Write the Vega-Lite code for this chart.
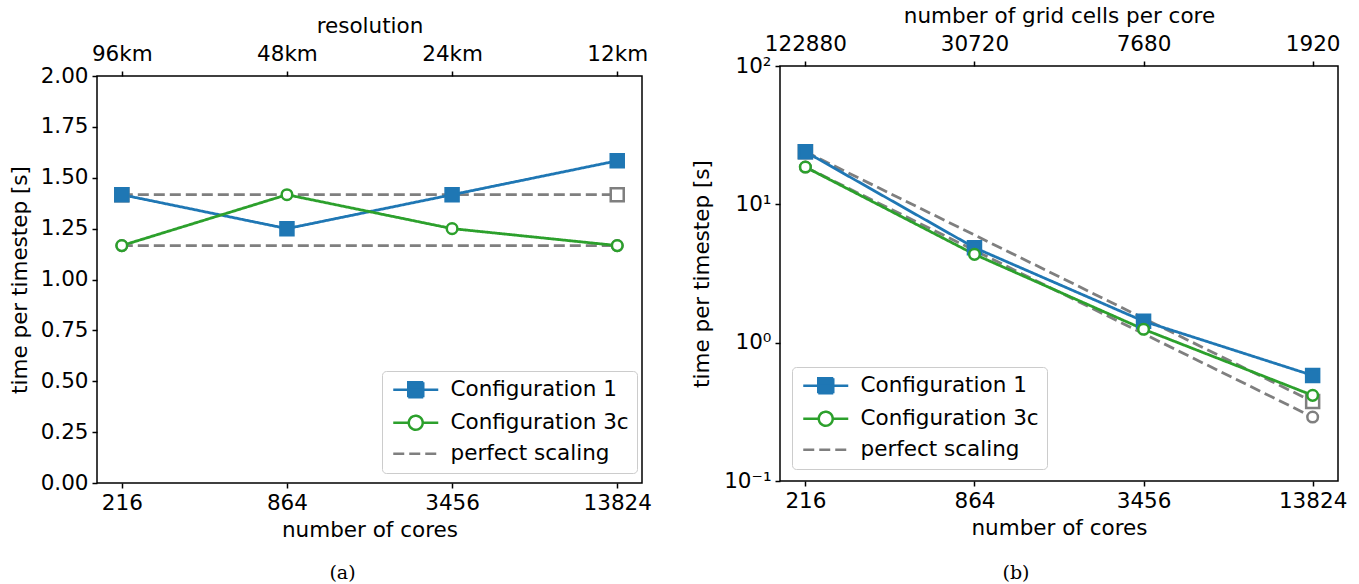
{
  "$schema": "https://vega.github.io/schema/vega-lite/v6.json",
  "background": "white",
  "padding": {"left": 8, "top": 3, "right": 4, "bottom": 0},
  "spacing": 37,
  "data": {"values": [
    {"panel": "a", "legend": "perfect scaling", "line": "p1", "kind": "perfect", "cores": 216, "time": 1.4167, "marker": "square"},
    {"panel": "a", "legend": "perfect scaling", "line": "p1", "kind": "perfect", "cores": 13824, "time": 1.4167, "marker": "square"},
    {"panel": "a", "legend": "perfect scaling", "line": "p3c", "kind": "perfect", "cores": 216, "time": 1.1667, "marker": "circle"},
    {"panel": "a", "legend": "perfect scaling", "line": "p3c", "kind": "perfect", "cores": 13824, "time": 1.1667, "marker": "circle"},
    {"panel": "a", "legend": "Configuration 1", "line": "c1", "kind": "measured", "cores": 216, "time": 1.4167, "marker": "square", "top": "96km"},
    {"panel": "a", "legend": "Configuration 1", "line": "c1", "kind": "measured", "cores": 864, "time": 1.25, "marker": "square", "top": "48km"},
    {"panel": "a", "legend": "Configuration 1", "line": "c1", "kind": "measured", "cores": 3456, "time": 1.4167, "marker": "square", "top": "24km"},
    {"panel": "a", "legend": "Configuration 1", "line": "c1", "kind": "measured", "cores": 13824, "time": 1.5833, "marker": "square", "top": "12km"},
    {"panel": "a", "legend": "Configuration 3c", "line": "c3c", "kind": "measured", "cores": 216, "time": 1.1667, "marker": "circle", "top": "96km"},
    {"panel": "a", "legend": "Configuration 3c", "line": "c3c", "kind": "measured", "cores": 864, "time": 1.4167, "marker": "circle", "top": "48km"},
    {"panel": "a", "legend": "Configuration 3c", "line": "c3c", "kind": "measured", "cores": 3456, "time": 1.25, "marker": "circle", "top": "24km"},
    {"panel": "a", "legend": "Configuration 3c", "line": "c3c", "kind": "measured", "cores": 13824, "time": 1.1667, "marker": "circle", "top": "12km"},
    {"panel": "b", "legend": "perfect scaling", "line": "p1", "kind": "perfect", "cores": 216, "time": 24.0, "marker": "square"},
    {"panel": "b", "legend": "perfect scaling", "line": "p1", "kind": "perfect", "cores": 13824, "time": 0.375, "marker": "square"},
    {"panel": "b", "legend": "perfect scaling", "line": "p3c", "kind": "perfect", "cores": 216, "time": 18.6, "marker": "circle"},
    {"panel": "b", "legend": "perfect scaling", "line": "p3c", "kind": "perfect", "cores": 13824, "time": 0.29, "marker": "circle"},
    {"panel": "b", "legend": "Configuration 1", "line": "c1", "kind": "measured", "cores": 216, "time": 24.0, "marker": "square", "top": "122880"},
    {"panel": "b", "legend": "Configuration 1", "line": "c1", "kind": "measured", "cores": 864, "time": 4.86, "marker": "square", "top": "30720"},
    {"panel": "b", "legend": "Configuration 1", "line": "c1", "kind": "measured", "cores": 3456, "time": 1.43, "marker": "square", "top": "7680"},
    {"panel": "b", "legend": "Configuration 1", "line": "c1", "kind": "measured", "cores": 13824, "time": 0.58, "marker": "square", "top": "1920"},
    {"panel": "b", "legend": "Configuration 3c", "line": "c3c", "kind": "measured", "cores": 216, "time": 18.6, "marker": "circle", "top": "122880"},
    {"panel": "b", "legend": "Configuration 3c", "line": "c3c", "kind": "measured", "cores": 864, "time": 4.35, "marker": "circle", "top": "30720"},
    {"panel": "b", "legend": "Configuration 3c", "line": "c3c", "kind": "measured", "cores": 3456, "time": 1.25, "marker": "circle", "top": "7680"},
    {"panel": "b", "legend": "Configuration 3c", "line": "c3c", "kind": "measured", "cores": 13824, "time": 0.416, "marker": "circle", "top": "1920"}
  ]},
  "hconcat": [
    {
      "spacing": 10,
      "vconcat": [
        {
          "width": 1,
          "height": 1,
          "view": {"stroke": null},
          "transform": [{"filter": "datum.panel == 'none'"}],
          "mark": {"type": "point", "opacity": 0},
          "encoding": {}
        },
        {
          "width": 545,
          "height": 407,
          "title": {"text": "(a)", "orient": "bottom", "anchor": "middle", "frame": "group", "dx": -27, "offset": 23},
          "transform": [{"filter": "datum.panel == 'a'"}],
          "layer": [
            {
              "layer": [
                {
                  "transform": [{"filter": "datum.kind == 'perfect'"}],
                  "mark": {"type": "line", "strokeWidth": 2.8},
                  "encoding": {
                    "x": {"field": "cores", "type": "quantitative", "scale": {"type": "log", "domain": [175.4, 17018], "nice": false},
                          "axis": {"values": [216, 864, 3456, 13824], "format": "d", "title": "number of cores"}},
                    "y": {"field": "time", "type": "quantitative", "scale": {"domain": [0, 2], "nice": false, "zero": false},
                          "axis": {"values": [0, 0.25, 0.5, 0.75, 1, 1.25, 1.5, 1.75, 2], "format": ".2f", "title": "time per timestep [s]", "titlePadding": 9}},
                    "detail": {"field": "line"},
                    "stroke": {"field": "legend", "type": "nominal", "scale": {"domain": ["Configuration 1", "Configuration 3c", "perfect scaling"], "range": ["#1f77b4", "#2ca02c", "#7f7f7f"]},
                               "legend": {"orient": "none", "legendX": 285, "legendY": 368, "title": null,
                                          "encode": {"symbols": {"update": {"shape": {"signal": "datum.value === 'Configuration 1' ? 'M-3,0H3M-1,-1H1V1H-1Z' : datum.value === 'Configuration 3c' ? 'M-3,0H-0.93M0.93,0H3M-0.93,0A0.93,0.93 0 1,0 0.93,0A0.93,0.93 0 1,0 -0.93,0' : 'M-3,0H3'"}}}}}},
                    "strokeDash": {"field": "legend", "type": "nominal", "scale": {"domain": ["Configuration 1", "Configuration 3c", "perfect scaling"], "range": [[1, 0], [1, 0], [11, 5]]},
                                   "legend": {"orient": "none", "legendX": 285, "legendY": 368, "title": null,
                                              "encode": {"symbols": {"update": {"shape": {"signal": "datum.value === 'Configuration 1' ? 'M-3,0H3M-1,-1H1V1H-1Z' : datum.value === 'Configuration 3c' ? 'M-3,0H-0.93M0.93,0H3M-0.93,0A0.93,0.93 0 1,0 0.93,0A0.93,0.93 0 1,0 -0.93,0' : 'M-3,0H3'"}}}}}}
                  }
                },
                {
                  "transform": [{"filter": "datum.kind == 'measured'"}],
                  "mark": {"type": "line", "strokeWidth": 2.8},
                  "encoding": {
                    "x": {"field": "cores", "type": "quantitative"},
                    "y": {"field": "time", "type": "quantitative"},
                    "detail": {"field": "line"},
                    "stroke": {"field": "legend", "type": "nominal"},
                    "strokeDash": {"field": "legend", "type": "nominal"}
                  }
                },
                {
                  "mark": {"type": "point", "filled": true, "strokeWidth": 2.5, "opacity": 1},
                  "encoding": {
                    "x": {"field": "cores", "type": "quantitative"},
                    "y": {"field": "time", "type": "quantitative"},
                    "shape": {"field": "marker", "type": "nominal", "scale": {"domain": ["square", "circle"], "range": ["square", "circle"]}, "legend": null},
                    "size": {"field": "marker", "type": "nominal", "scale": {"domain": ["square", "circle"], "range": [169, 113]}, "legend": null},
                    "stroke": {"field": "legend", "type": "nominal"},
                    "fill": {"field": "legend", "type": "nominal", "scale": {"domain": ["Configuration 1", "Configuration 3c", "perfect scaling"], "range": ["#1f77b4", "#ffffff", "#ffffff"]},
                             "legend": {"orient": "none", "legendX": 285, "legendY": 368, "title": null,
                                        "encode": {"symbols": {"update": {"shape": {"signal": "datum.value === 'Configuration 1' ? 'M-3,0H3M-1,-1H1V1H-1Z' : datum.value === 'Configuration 3c' ? 'M-3,0H-0.93M0.93,0H3M-0.93,0A0.93,0.93 0 1,0 0.93,0A0.93,0.93 0 1,0 -0.93,0' : 'M-3,0H3'"}}}}}}
                  }
                }
              ]
            },
            {
              "transform": [{"filter": "datum.kind == 'measured'"}],
              "mark": {"type": "point", "opacity": 0},
              "encoding": {
                "x": {"field": "top", "type": "ordinal", "sort": ["96km", "48km", "24km", "12km"], "scale": {"type": "point", "padding": 0.15},
                      "axis": {"orient": "top", "title": "resolution", "labelAngle": 0}},
                "y": {"field": "time", "type": "quantitative"}
              }
            }
          ],
          "resolve": {"scale": {"x": "independent"}}
        }
      ]
    },
    {
      "spacing": 0,
      "vconcat": [
        {
          "width": 1,
          "height": 1,
          "view": {"stroke": null},
          "transform": [{"filter": "datum.panel == 'none'"}],
          "mark": {"type": "point", "opacity": 0},
          "encoding": {}
        },
        {
          "width": 558,
          "height": 415,
          "title": {"text": "(b)", "orient": "bottom", "anchor": "middle", "frame": "group", "dx": -43, "offset": 25},
          "transform": [{"filter": "datum.panel == 'b'"}],
          "layer": [
            {
              "layer": [
                {
                  "transform": [{"filter": "datum.kind == 'perfect'"}],
                  "mark": {"type": "line", "strokeWidth": 2.8},
                  "encoding": {
                    "x": {"field": "cores", "type": "quantitative", "scale": {"type": "log", "domain": [175.4, 17018], "nice": false},
                          "axis": {"values": [216, 864, 3456, 13824], "format": "d", "title": "number of cores"}},
                    "y": {"field": "time", "type": "quantitative", "scale": {"type": "log", "domain": [0.1, 100], "nice": false},
                          "axis": {"values": [0.1, 1, 10, 100], "labelExpr": "datum.value >= 99 ? '10²' : datum.value >= 9 ? '10¹' : datum.value >= 0.9 ? '10⁰' : '10⁻¹'", "title": "time per timestep [s]", "titlePadding": 10}},
                    "detail": {"field": "line"},
                    "stroke": {"field": "legend", "type": "nominal", "scale": {"domain": ["Configuration 1", "Configuration 3c", "perfect scaling"], "range": ["#1f77b4", "#2ca02c", "#7f7f7f"]},
                               "legend": {"orient": "none", "legendX": 12, "legendY": 364, "title": null,
                                          "encode": {"symbols": {"update": {"shape": {"signal": "datum.value === 'Configuration 1' ? 'M-3,0H3M-1,-1H1V1H-1Z' : datum.value === 'Configuration 3c' ? 'M-3,0H-0.93M0.93,0H3M-0.93,0A0.93,0.93 0 1,0 0.93,0A0.93,0.93 0 1,0 -0.93,0' : 'M-3,0H3'"}}}}}},
                    "strokeDash": {"field": "legend", "type": "nominal", "scale": {"domain": ["Configuration 1", "Configuration 3c", "perfect scaling"], "range": [[1, 0], [1, 0], [11, 5]]},
                                   "legend": {"orient": "none", "legendX": 12, "legendY": 364, "title": null,
                                              "encode": {"symbols": {"update": {"shape": {"signal": "datum.value === 'Configuration 1' ? 'M-3,0H3M-1,-1H1V1H-1Z' : datum.value === 'Configuration 3c' ? 'M-3,0H-0.93M0.93,0H3M-0.93,0A0.93,0.93 0 1,0 0.93,0A0.93,0.93 0 1,0 -0.93,0' : 'M-3,0H3'"}}}}}}
                  }
                },
                {
                  "transform": [{"filter": "datum.kind == 'measured'"}],
                  "mark": {"type": "line", "strokeWidth": 2.8},
                  "encoding": {
                    "x": {"field": "cores", "type": "quantitative"},
                    "y": {"field": "time", "type": "quantitative"},
                    "detail": {"field": "line"},
                    "stroke": {"field": "legend", "type": "nominal"},
                    "strokeDash": {"field": "legend", "type": "nominal"}
                  }
                },
                {
                  "mark": {"type": "point", "filled": true, "strokeWidth": 2.5, "opacity": 1},
                  "encoding": {
                    "x": {"field": "cores", "type": "quantitative"},
                    "y": {"field": "time", "type": "quantitative"},
                    "shape": {"field": "marker", "type": "nominal", "scale": {"domain": ["square", "circle"], "range": ["square", "circle"]}, "legend": null},
                    "size": {"field": "marker", "type": "nominal", "scale": {"domain": ["square", "circle"], "range": [169, 113]}, "legend": null},
                    "stroke": {"field": "legend", "type": "nominal"},
                    "fill": {"field": "legend", "type": "nominal", "scale": {"domain": ["Configuration 1", "Configuration 3c", "perfect scaling"], "range": ["#1f77b4", "#ffffff", "#ffffff"]},
                             "legend": {"orient": "none", "legendX": 12, "legendY": 364, "title": null,
                                        "encode": {"symbols": {"update": {"shape": {"signal": "datum.value === 'Configuration 1' ? 'M-3,0H3M-1,-1H1V1H-1Z' : datum.value === 'Configuration 3c' ? 'M-3,0H-0.93M0.93,0H3M-0.93,0A0.93,0.93 0 1,0 0.93,0A0.93,0.93 0 1,0 -0.93,0' : 'M-3,0H3'"}}}}}}
                  }
                }
              ]
            },
            {
              "transform": [{"filter": "datum.kind == 'measured'"}],
              "mark": {"type": "point", "opacity": 0},
              "encoding": {
                "x": {"field": "top", "type": "ordinal", "sort": ["122880", "30720", "7680", "1920"], "scale": {"type": "point", "padding": 0.15},
                      "axis": {"orient": "top", "title": "number of grid cells per core", "labelAngle": 0}},
                "y": {"field": "time", "type": "quantitative"}
              }
            }
          ],
          "resolve": {"scale": {"x": "independent"}}
        }
      ]
    }
  ],
  "resolve": {"scale": {"x": "independent", "y": "independent", "stroke": "independent", "fill": "independent", "strokeDash": "independent", "shape": "independent", "size": "independent"}},
  "config": {
    "font": "DejaVu Sans",
    "view": {"stroke": "#000000", "strokeWidth": 1.5},
    "axis": {
      "domain": false, "grid": false, "ticks": true, "tickColor": "#000000", "tickSize": 5, "tickWidth": 1.5,
      "labelFont": "DejaVu Sans", "labelFontSize": 21.5, "labelColor": "#000000", "labelPadding": 4,
      "labelFlush": false, "labelOverlap": false,
      "titleFont": "DejaVu Sans", "titleFontSize": 21.5, "titleFontWeight": "normal", "titleColor": "#000000", "titlePadding": 6
    },
    "axisTop": {"labelPadding": 6, "titlePadding": 6},
    "legend": {
      "labelFont": "DejaVu Sans", "labelFontSize": 21.5, "labelColor": "#000000", "labelLimit": 400,
      "symbolSize": 225, "symbolStrokeWidth": 2.5, "symbolOffset": 15, "labelOffset": 24,
      "padding": 8, "rowPadding": 7,
      "strokeColor": "#cccccc", "fillColor": "#ffffff", "cornerRadius": 4,
      "symbolOpacity": 1
    },
    "title": {"font": "DejaVu Serif", "fontSize": 19, "fontWeight": "normal", "color": "#000000"}
  }
}
